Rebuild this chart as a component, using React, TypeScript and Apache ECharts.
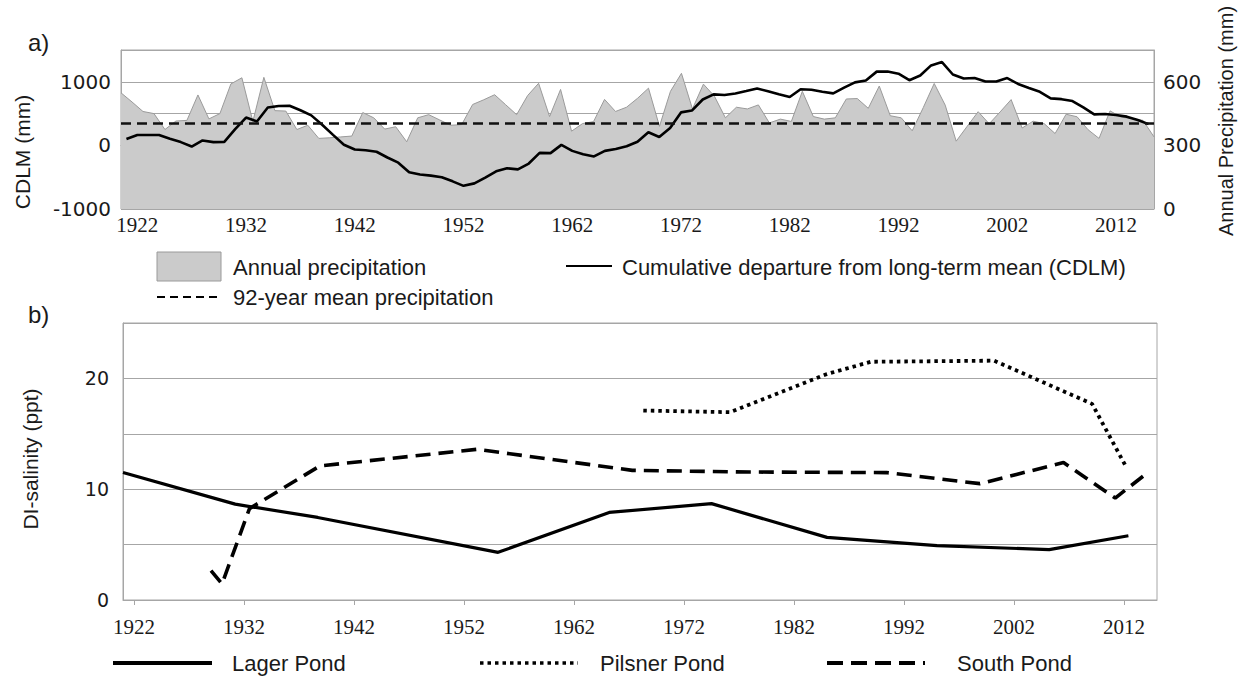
import { useEffect, useRef } from "react";
import * as echarts from "echarts";

const START_YEAR = 1921;
const years = Array.from({ length: 95 }, (_, i) => String(START_YEAR + i));

// Annual precipitation (mm), 1921-2015
const precip = [
  548, 505, 460, 450, 375, 415, 418, 538, 425, 450,
  590, 619, 413, 621, 464, 462, 375, 395, 333, 336,
  340, 344, 455, 430, 377, 388, 317, 430, 445, 420,
  395, 398, 493, 515, 539, 492, 445, 535, 593, 436,
  564, 367, 403, 412, 517, 460, 480, 522, 570, 390,
  555, 640, 472, 589, 532, 430, 480, 472, 491, 406,
  424, 413, 555, 436, 424, 430, 519, 521, 475, 580,
  440, 430, 369, 478, 592, 490, 320, 390, 459, 402,
  458, 516, 382, 414, 403, 356, 447, 435, 374, 333,
  463, 433, 427, 418, 340,
];

// Cumulative departure from long-term mean (mm), 1921-2015
const cdlm = [
  100, 163, 163, 163, 104, 52, -18, 78, 52, 55,
  255, 438, 376, 595, 620, 623, 552, 472, 325, 166,
  10, -65, -76, -100, -190, -272, -423, -457, -475, -500,
  -565, -636, -597, -506, -408, -360, -377, -285, -117, -122,
  8, -86, -138, -174, -86, -58, -14, 57, 207, 133,
  275, 519, 548, 722, 802, 792, 817, 854, 895, 851,
  804, 760, 883, 875, 844, 818, 908, 991, 1020, 1160,
  1162, 1128, 1025, 1098, 1258, 1310, 1115, 1051, 1059, 1005,
  1005, 1059, 966, 903, 842, 740, 727, 698, 597, 488,
  494, 478, 452, 400, 335,
];

const meanPrecip = 406;

// DI-salinity (ppt)
const lager = [
  [1921, 11.5], [1931.2, 8.65], [1938.7, 7.45], [1955.1, 4.3], [1965.2, 7.9],
  [1974.5, 8.7], [1985, 5.65], [1995, 4.9], [2005.2, 4.55], [2012.4, 5.8],
];
const pilsner = [
  [1968.3, 17.1], [1976.2, 16.95], [1985, 20.4], [1989, 21.5], [2000.2, 21.6],
  [2009.1, 17.7], [2012.2, 12.0],
];
const south = [
  [1929, 2.65], [1930, 1.45], [1932.5, 8.25], [1938.9, 12.1], [1953.2, 13.6],
  [1967.3, 11.7], [1978, 11.55], [1990.4, 11.5], [1998.9, 10.5], [2006.5, 12.4],
  [2011.2, 9.2], [2013.9, 11.3],
];

const aLeftLabels = [-1000, 0, 1000];
const aRightLabels = [0, 300, 600];
const bLeftLabels = [0, 10, 20];
const bTickYears = [1922, 1932, 1942, 1952, 1962, 1972, 1982, 1992, 2002, 2012];

const GRID = "#a6a6a6";
const TXT = "#1a1a1a";
const SANS = "Liberation Sans, Arial, sans-serif";
const WIDE = "DejaVu Sans, Verdana, sans-serif";
const SERIF = "Liberation Serif, Times New Roman, serif";

export default function App() {
  const ref = useRef<HTMLDivElement>(null);
  useEffect(() => {
    if (!ref.current) return;
    const chart = echarts.init(ref.current, null, { renderer: "svg" });
    const legendText = (x: number, y: number, text: string) => ({
      type: "text",
      x,
      y,
      style: { text, fill: TXT, font: `22px ${SANS}`, textAlign: "left", textVerticalAlign: "middle" },
    });
    const option: any = {
      animation: false,
      backgroundColor: "#ffffff",
      grid: [
        { left: 121, top: 50, width: 1033, height: 159, show: true, borderColor: GRID, borderWidth: 1, backgroundColor: "transparent" },
        { left: 123, top: 323, width: 1034, height: 277, show: true, borderColor: GRID, borderWidth: 1, backgroundColor: "transparent" },
      ],
      xAxis: [
        {
          type: "category", gridIndex: 0, data: years, boundaryGap: true,
          axisLine: { lineStyle: { color: GRID } },
          axisTick: { show: true, interval: 0, length: 4, lineStyle: { color: GRID } },
          axisLabel: {
            interval: (idx: number) => (idx - 1) % 10 === 0,
            color: TXT, fontFamily: SERIF, fontSize: 21, margin: 5,
          },
          splitLine: { show: false },
        },
        { type: "category", gridIndex: 0, data: years, boundaryGap: false, show: false },
        {
          type: "value", gridIndex: 1, min: 1921, max: 2015,
          axisLine: { lineStyle: { color: GRID } },
          axisTick: { show: true, customValues: bTickYears, length: 5, lineStyle: { color: GRID } },
          axisLabel: {
            customValues: bTickYears,
            formatter: (v: number) => String(Math.round(v)),
            color: TXT, fontFamily: SERIF, fontSize: 21, margin: 16,
          },
          splitLine: { show: false },
        },
      ],
      yAxis: [
        {
          type: "value", gridIndex: 0, min: -1000, max: 1500, interval: 500, position: "left",
          axisLine: { show: true, lineStyle: { color: GRID } },
          axisTick: { show: false },
          axisLabel: {
            formatter: (v: number) => (aLeftLabels.includes(v) ? String(v) : ""),
            color: TXT, fontFamily: WIDE, fontSize: 20, margin: 10,
          },
          splitLine: { lineStyle: { color: GRID } },
        },
        {
          type: "value", gridIndex: 0, min: 0, max: 750, interval: 150, position: "right",
          axisLine: { show: true, lineStyle: { color: GRID } },
          axisTick: { show: false },
          axisLabel: {
            formatter: (v: number) => (aRightLabels.includes(v) ? String(v) : ""),
            color: TXT, fontFamily: WIDE, fontSize: 20, margin: 9,
          },
          splitLine: { show: false },
        },
        {
          type: "value", gridIndex: 1, min: 0, max: 25, interval: 5,
          axisLine: { show: true, lineStyle: { color: GRID } },
          axisTick: { show: false },
          axisLabel: {
            formatter: (v: number) => (bLeftLabels.includes(v) ? String(v) : ""),
            color: TXT, fontFamily: WIDE, fontSize: 19, margin: 14,
          },
          splitLine: { lineStyle: { color: GRID } },
        },
      ],
      series: [
        {
          name: "Annual precipitation", type: "line", xAxisIndex: 1, yAxisIndex: 1,
          data: precip, symbol: "none", z: 1,
          lineStyle: { color: "#9a9a9a", width: 1 },
          areaStyle: { color: "#cbcbcb", opacity: 1 },
          markLine: {
            silent: true, symbol: ["none", "none"], label: { show: false },
            lineStyle: { color: "#111", width: 2.5, type: [10, 6] },
            data: [{ yAxis: meanPrecip }],
          },
        },
        {
          name: "CDLM", type: "line", xAxisIndex: 0, yAxisIndex: 0,
          data: cdlm, symbol: "none", z: 3,
          lineStyle: { color: "#000", width: 2.6 },
        },
        {
          name: "Lager Pond", type: "line", xAxisIndex: 2, yAxisIndex: 2,
          data: lager, symbol: "none", lineStyle: { color: "#000", width: 3.2 },
        },
        {
          name: "Pilsner Pond", type: "line", xAxisIndex: 2, yAxisIndex: 2,
          data: pilsner, symbol: "none", lineStyle: { color: "#000", width: 3.8, type: [3.5, 4], cap: "butt" },
        },
        {
          name: "South Pond", type: "line", xAxisIndex: 2, yAxisIndex: 2,
          data: south, symbol: "none", lineStyle: { color: "#000", width: 3.6, type: [15, 8], cap: "butt" },
        },
      ],
      graphic: [
        { type: "text", x: 28, y: 42, style: { text: "a)", fill: TXT, font: `24px ${SANS}`, textAlign: "left", textVerticalAlign: "middle" } },
        { type: "text", x: 28, y: 314, style: { text: "b)", fill: TXT, font: `24px ${SANS}`, textAlign: "left", textVerticalAlign: "middle" } },
        { type: "text", x: 22, y: 152, rotation: Math.PI / 2, style: { text: "CDLM (mm)", fill: TXT, font: `21px ${SANS}`, textAlign: "center", textVerticalAlign: "middle" } },
        { type: "text", x: 1226, y: 121, rotation: Math.PI / 2, style: { text: "Annual Precipitation (mm)", fill: TXT, font: `20px ${SANS}`, textAlign: "center", textVerticalAlign: "middle" } },
        { type: "text", x: 30, y: 459, rotation: Math.PI / 2, style: { text: "DI-salinity (ppt)", fill: TXT, font: `21px ${SANS}`, textAlign: "center", textVerticalAlign: "middle" } },
        // legend a
        { type: "rect", shape: { x: 157, y: 252, width: 64, height: 29 }, style: { fill: "#cbcbcb", stroke: "#9a9a9a", lineWidth: 1 } },
        legendText(233, 267, "Annual precipitation"),
        { type: "line", shape: { x1: 566, y1: 266, x2: 612, y2: 266 }, style: { stroke: "#000", lineWidth: 2 } },
        legendText(622, 267, "Cumulative departure from long-term mean (CDLM)"),
        { type: "line", shape: { x1: 157, y1: 297, x2: 221, y2: 297 }, style: { stroke: "#000", lineWidth: 2, lineDash: [8, 5] } },
        legendText(233, 297, "92-year mean precipitation"),
        // legend b
        { type: "line", shape: { x1: 113, y1: 663, x2: 212, y2: 663 }, style: { stroke: "#000", lineWidth: 4 } },
        legendText(232, 663, "Lager Pond"),
        { type: "line", shape: { x1: 480, y1: 663, x2: 578, y2: 663 }, style: { stroke: "#000", lineWidth: 3.5, lineDash: [3.5, 4] } },
        legendText(600, 663, "Pilsner Pond"),
        { type: "line", shape: { x1: 827, y1: 663, x2: 925, y2: 663 }, style: { stroke: "#000", lineWidth: 4, lineDash: [16, 8] } },
        legendText(957, 663, "South Pond"),
      ],
    };
    chart.setOption(option);
    return () => chart.dispose();
  }, []);
  return (
    <div
      ref={ref}
      style={{ position: "absolute", left: 0, top: 0, width: 1240, height: 679, background: "#fff" }}
    />
  );
}
